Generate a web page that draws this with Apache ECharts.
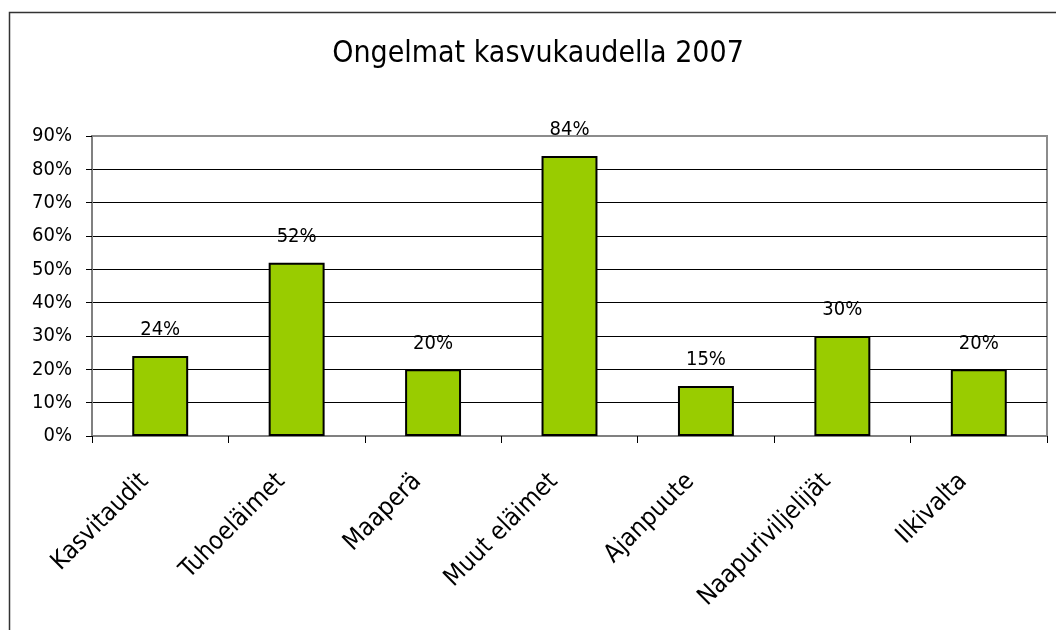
<!DOCTYPE html>
<html><head><meta charset="utf-8">
<script src="https://cdn.jsdelivr.net/npm/echarts@6/dist/echarts.min.js"></script>
<style>html,body{margin:0;padding:0;background:#fff}#c{width:1056px;height:630px}</style>
</head><body><div id="c"></div>
<script>
const title = 'Ongelmat kasvukaudella 2007';
const categories = ['Kasvitaudit','Tuhoeläimet','Maaperä','Muut eläimet','Ajanpuute','Naapuriviljelijät','Ilkivalta'];
const values = [24, 52, 20, 84, 15, 30, 20];
const yMin = 0, yMax = 90, yStep = 10;

const chart = echarts.init(document.getElementById('c'), null, {renderer:'canvas'});
const font = '"DejaVu Sans Condensed"';
chart.setOption({
  animation:false,
  backgroundColor:'#fff',
  title:{text:title, left:533, textAlign:'center', top:34, textStyle:{fontFamily:font, fontSize:30, fontWeight:'normal', color:'#000'}},
  graphic:[{type:'rect', left:7, top:10, shape:{width:1060, height:640}, style:{fill:null, stroke:'#333', lineWidth:1.5}, silent:true}],
  grid:{left:92, right:9, top:136, bottom:194, show:true, borderColor:'#8c8c8c', borderWidth:2, backgroundColor:'transparent'},
  xAxis:{type:'category', data:categories,
    axisLine:{lineStyle:{color:'#808080', width:2}},
    axisTick:{show:true, length:7, lineStyle:{color:'#000', width:1}},
    axisLabel:{rotate:45, margin:26, padding:[0,22,0,0], fontFamily:font, fontSize:25, color:'#000', interval:0}},
  yAxis:{type:'value', min:yMin, max:yMax, interval:yStep,
    axisLine:{show:true, lineStyle:{color:'#808080', width:2}},
    axisTick:{show:true, length:6, lineStyle:{color:'#000'}},
    axisLabel:{formatter:'{value}%', margin:20, fontFamily:font, fontSize:20, color:'#000'},
    splitLine:{show:true, showMinLine:false, showMaxLine:false, lineStyle:{color:'#000', width:1}}},
  series:[{type:'bar', data:values, barWidth:'41%',
    itemStyle:{color:'#99CC00', borderColor:'#000', borderWidth:2},
    label:{show:true, position:'top', distance:16, formatter:'{c}%', fontFamily:font, fontSize:20, color:'#000'}}]
});
</script></body></html>
